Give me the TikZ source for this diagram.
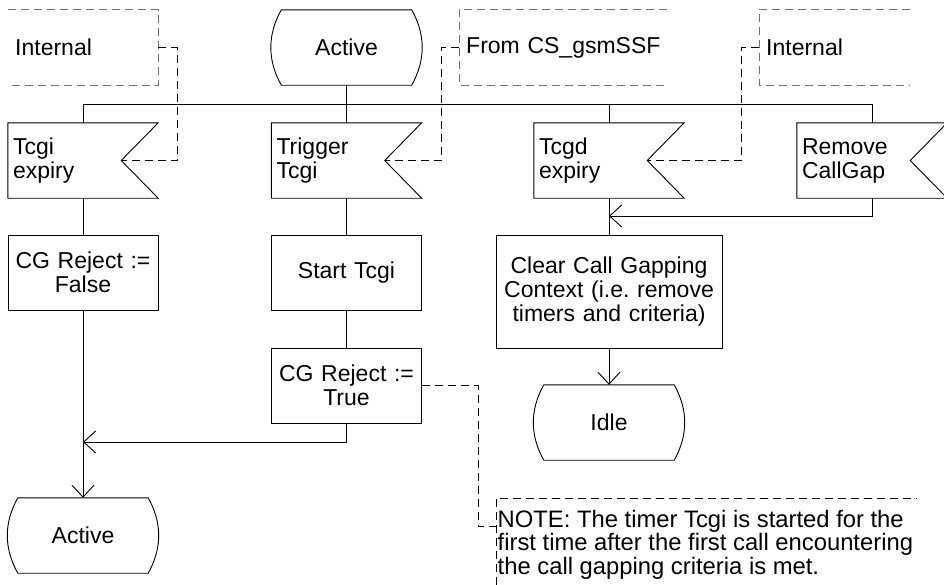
\documentclass[tikz,border=0pt]{standalone}
\usepackage{fontspec}
\setmainfont{Liberation Sans}
\usetikzlibrary{arrows.meta,calc}
\frenchspacing
\hbadness=10000
\hfuzz=50pt
\tikzset{
  ln/.style={line width=0.9pt, draw=black},
  dsh/.style={line width=0.9pt, draw=black, dash pattern=on 8pt off 5pt},
  cbox/.style={line width=0.9pt, draw=black!55, dash pattern=on 8pt off 5pt},
  txt/.style={font=\fontsize{23}{24}\selectfont},
  notetxt/.style={font=\fontsize{23.8}{23.5}\selectfont},
  statenode/.style={txt, minimum width=130pt, minimum height=75pt, inner sep=0pt},
  flagnode/.style={txt, minimum height=75pt, text width=140pt, inner xsep=5pt, inner ysep=0pt, align=left},
  tasknode/.style={txt, ln, minimum height=75pt, text width=140pt, inner xsep=5pt, inner ysep=0pt, align=center},
  commentnode/.style={txt, minimum height=75pt, inner xsep=7pt, inner ysep=0pt, align=left, anchor=west},
  arr/.style={ln, -{Straight Barb[length=12pt,width=22pt]}},
}
\newcommand\sdlstate[1]{\draw[ln] (#1.north west) .. controls +(-14,25) and +(-14,-25) .. (#1.south west) -- (#1.south east) .. controls +(14,-25) and +(14,25) .. (#1.north east) -- cycle;}
\newcommand\sdlflag[1]{\draw[ln] (#1.north west) -- (#1.north east) -- ($(#1.east)+(-37,0)$) -- (#1.south east) -- (#1.south west) -- cycle;}
\begin{document}
\begin{tikzpicture}[x=1pt,y=-1pt]
\useasboundingbox (0,0) rectangle (944,584);
% states
\node[statenode] (actT) at (346.5,47.5) {Active};
\sdlstate{actT}
\node[statenode] (idle) at (609,422.5) {Idle};
\sdlstate{idle}
\node[statenode] (actB) at (83,535.5) {Active};
\sdlstate{actB}
% comments
\node[commentnode, minimum width=150pt, text width=136pt] (cI1) at (8,47.5) {Internal};
\draw[cbox] (cI1.north west) -- (cI1.north east) -- (cI1.south east) -- (cI1.south west);
\node[commentnode, minimum width=208pt, text width=194pt] (cF) at (459,47.5) {\mbox{From CS\_gsmSSF}};
\draw[cbox] (cF.north east) -- (cF.north west) -- (cF.south west) -- (cF.south east);
\node[commentnode, minimum width=151pt, text width=137pt] (cI2) at (759,47.5) {Internal};
\draw[cbox] (cI2.north east) -- (cI2.north west) -- (cI2.south west) -- (cI2.south east);
% flags
\node[flagnode] (f1) at (83,160.5) {Tcgi\\expiry};
\sdlflag{f1}
\node[flagnode] (f2) at (346.5,160.5) {Trigger\\Tcgi};
\sdlflag{f2}
\node[flagnode] (f3) at (609,160.5) {Tcgd\\expiry};
\sdlflag{f3}
\node[flagnode] (f4) at (872,160.5) {Remove\\CallGap};
\sdlflag{f4}
% tasks
\node[tasknode, draw] (b1) at (83,272.5) {CG Reject :=\\False};
\node[tasknode, draw] (b2) at (346.5,272.5) {Start Tcgi};
\node[tasknode, draw] (b3) at (346.5,385.5) {CG Reject :=\\True};
\node[tasknode, draw, text width=216pt, minimum height=113pt] (b4) at (609,291.5) {Clear Call Gapping\\Context (i.e. remove\\timers and criteria)};
% note
\node[notetxt, anchor=north west, inner xsep=1.5pt, inner ysep=12pt, align=left] (note) at (496,498) {NOTE: The timer Tcgi is started for the\\first time after the first call encountering\\the call gapping criteria is met.};
\draw[dsh] ($(note.north west)+(0,100)$) -- (note.north west) -- ($(note.north west)+(421,0)$);
% bus
\coordinate (bus) at (0,104);
\draw[ln] (actT.south) -- (actT.south |- bus);
\draw[ln] (f1.north) -- (f1.north |- bus) -- (f4.north |- bus) -- (f4.north);
\draw[ln] (f2.north) -- (f2.north |- bus);
\draw[ln] (f3.north) -- (f3.north |- bus);
% flow
\draw[ln] (f1.south) -- (b1.north);
\draw[arr] (b1.south) -- (actB.north);
\draw[ln] (f2.south) -- (b2.north);
\draw[ln] (b2.south) -- (b3.north);
\coordinate (m1) at (83,442);
\draw[arr] (b3.south) |- (m1);
\draw[ln] (f3.south) -- (b4.north);
\coordinate (m2) at (609,216);
\draw[arr] (f4.south) |- (m2);
\draw[arr] (b4.south) -- (idle.north);
% comment connectors
\draw[dsh] (cI1.east) -- ++(19,0) |- ($(f1.east)+(-37,0)$);
\draw[dsh] (cF.west) -- ++(-18,0) |- ($(f2.east)+(-37,0)$);
\draw[dsh] (cI2.west) -- ++(-18,0) |- ($(f3.east)+(-37,0)$);
\draw[dsh] (b3.east) -- ++(56,0) |- ($(note.north west)+(0,28)$);
\end{tikzpicture}
\end{document}
